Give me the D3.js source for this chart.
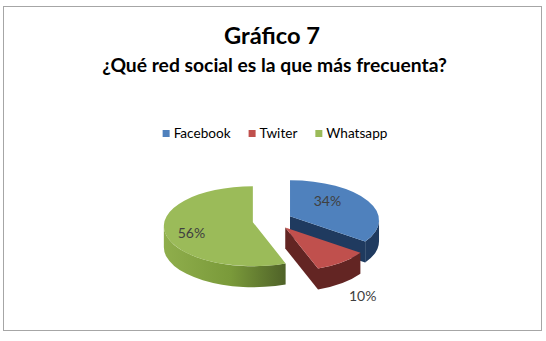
<!DOCTYPE html>
<html>
<head>
<meta charset="utf-8">
<script src="https://cdn.jsdelivr.net/npm/d3@7"></script>
<style>
  body { margin: 0; background: #fff; }
  text { font-family: Lato, "Open Sans", sans-serif; }
</style>
</head>
<body>
<div class="chart"></div>
<script>
var categories = ["Facebook", "Twiter", "Whatsapp"];
var values = [34, 10, 56];
var valueLabels = ["34%", "10%", "56%"];

var svgWidth = 546;
var svgHeight = 341;

var svg = d3.select(".chart")
  .append("svg")
  .attr("width", svgWidth)
  .attr("height", svgHeight);

svg.append("rect")
  .attr("x", 3.5)
  .attr("y", 6.5)
  .attr("width", 538)
  .attr("height", 324)
  .attr("fill", "#fff")
  .attr("stroke", "#a6a6a6");

svg.append("text")
  .attr("x", 272)
  .attr("y", 44)
  .attr("text-anchor", "middle")
  .attr("font-weight", "bold")
  .attr("font-size", 23.7)
  .attr("fill", "#000")
  .text("Gráfico 7");

svg.append("text")
  .attr("x", 274.5)
  .attr("y", 72)
  .attr("text-anchor", "middle")
  .attr("font-weight", "bold")
  .attr("font-size", 19.3)
  .attr("fill", "#000")
  .text("¿Qué red social es la que más frecuenta?");

var topColor = d3.scaleOrdinal().domain(categories).range(["#4F81BD", "#C0504D", "#9BBB59"]);
var sideColor = d3.scaleOrdinal().domain(categories).range(["#1F3A5F", "#632523", "url(#greenSide)"]);

var defs = svg.append("defs");
var grad = defs.append("linearGradient")
  .attr("id", "greenSide")
  .attr("x1", "0").attr("y1", "0").attr("x2", "1").attr("y2", "0");
grad.append("stop").attr("offset", "0%").attr("stop-color", "#8FAE4C");
grad.append("stop").attr("offset", "55%").attr("stop-color", "#7A9A3A");
grad.append("stop").attr("offset", "100%").attr("stop-color", "#4F6228");

// legend
var legend = svg.append("g");
var lx = 0;
categories.forEach(function(c) {
  var g = legend.append("g").attr("transform", `translate(${lx}, 0)`);
  g.append("rect")
    .attr("x", 0).attr("y", -8)
    .attr("width", 7).attr("height", 7)
    .attr("fill", topColor(c));
  var t = g.append("text")
    .attr("x", 11).attr("y", 0)
    .attr("font-size", 13.6)
    .attr("fill", "#000")
    .text(c);
  lx += 11 + t.node().getComputedTextLength() + 18;
});
lx -= 18;
legend.attr("transform", `translate(${275 - lx / 2}, 138)`);

// 3d pie (vertex sits a bit above the ellipse centre for perspective)
var cx = 272.5, cy = 220.5, rx = 89, ry = 40, dyc = 4, depth = 21, explode = 20;

var data = categories.map(function(c, i) {
  return { name: c, value: values[i], label: valueLabels[i] };
});

var arcs = d3.pie().sort(null).value(d => d.value)(data);

function pt(a, d, z) {
  return [d.ox + rx * Math.sin(a), d.oy + dyc - ry * Math.cos(a) + z];
}

arcs.forEach(function(d) {
  var mid = (d.startAngle + d.endAngle) / 2;
  d.mid = mid;
  d.ox = cx + explode * Math.sin(mid);
  d.oy = cy - explode * (ry / rx) * Math.cos(mid);
});

var order = arcs.slice().sort((a, b) => a.oy - b.oy);
var pieGroup = svg.append("g");

order.forEach(function(d) {
  var g = pieGroup.append("g");
  var a0 = d.startAngle, a1 = d.endAngle;

  // outer wall, front half only
  var s = Math.max(a0, Math.PI / 2), e = Math.min(a1, Math.PI * 1.5);
  if (e > s) {
    var p1 = pt(s, d, 0), p2 = pt(e, d, 0);
    var p3 = pt(e, d, depth), p4 = pt(s, d, depth);
    g.append("path")
      .attr("d", `M${p1}A${rx},${ry} 0 0 1 ${p2}L${p3}A${rx},${ry} 0 0 0 ${p4}Z`)
      .attr("fill", sideColor(d.data.name));
  }

  // radial walls that face the viewer
  [[a0, -Math.sin(a0)], [a1, Math.sin(a1)]].forEach(function(w) {
    if (w[1] > 0.01) {
      var q1 = [d.ox, d.oy], q2 = pt(w[0], d, 0);
      var q3 = pt(w[0], d, depth), q4 = [d.ox, d.oy + depth];
      g.append("path")
        .attr("d", `M${q1}L${q2}L${q3}L${q4}Z`)
        .attr("fill", d.data.name === "Whatsapp" ? "#6E8B33" : sideColor(d.data.name));
    }
  });

  // top face
  var t0 = pt(a0, d, 0), t1 = pt(a1, d, 0);
  var large = (a1 - a0) > Math.PI ? 1 : 0;
  g.append("path")
    .attr("d", `M${d.ox},${d.oy}L${t0}A${rx},${ry} 0 ${large} 1 ${t1}Z`)
    .attr("fill", topColor(d.data.name));
});

// value labels: fraction of the radii from the slice vertex
var labelPlace = {
  Facebook: [0.42, -0.37],
  Twiter: [0.87, 1.72],
  Whatsapp: [-0.69, 0.28]
};

pieGroup.selectAll("text.val")
  .data(arcs)
  .enter()
  .append("text")
  .attr("class", "val")
  .attr("x", d => d.ox + labelPlace[d.data.name][0] * rx)
  .attr("y", d => d.oy + labelPlace[d.data.name][1] * ry)
  .attr("dy", "0.35em")
  .attr("text-anchor", "middle")
  .attr("font-size", 14)
  .attr("fill", "#404040")
  .text(d => d.data.label);
</script>
</body>
</html>
